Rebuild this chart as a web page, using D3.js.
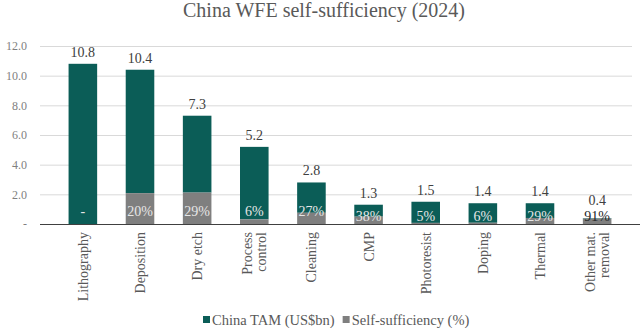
<!DOCTYPE html>
<html>
<head>
<meta charset="utf-8">
<script src="https://cdn.jsdelivr.net/npm/d3@7"></script>
<style>
  body { margin: 0; background: #fff; }
  svg text { font-family: "Liberation Serif", "DejaVu Serif", serif; }
</style>
</head>
<body>
<svg id="chart"></svg>
<script>
// categories and values
var categories = ["Lithography", "Deposition", "Dry etch", "Process control", "Cleaning",
                  "CMP", "Photoresist", "Doping", "Thermal", "Other mat. removal"];
var tam = [10.8, 10.4, 7.3, 5.2, 2.8, 1.3, 1.5, 1.4, 1.4, 0.4];     // China TAM (US$bn)
var selfSuff = [null, 20, 29, 6, 27, 38, 5, 6, 29, 91];              // Self-sufficiency (%)
var yTicks = [0, 2, 4, 6, 8, 10, 12];
var seriesNames = ["China TAM (US$bn)", "Self-sufficiency (%)"];

var width = 640, height = 328;
var teal = "#0b5d57", grey = "#7f7f7f";

var svg = d3.select("#chart").attr("width", width).attr("height", height);

var x = d3.scaleBand().domain(categories).range([40, 640]).padding(0.5);
var y = d3.scaleLinear().domain([0, 12]).range([224, 46]);

// title
svg.append("text")
  .attr("x", 324).attr("y", 17)
  .attr("text-anchor", "middle")
  .style("font-size", "20px")
  .attr("fill", "#595959")
  .text("China WFE self-sufficiency (2024)");

// y axis + gridlines
var yAxis = svg.append("g")
  .attr("transform", "translate(40,0)")
  .call(d3.axisLeft(y).tickValues(yTicks).tickSize(-592).tickPadding(13)
    .tickFormat(function(d) { return d === 0 ? "-" : d.toFixed(1); }));
yAxis.select(".domain").remove();
yAxis.selectAll(".tick line").attr("stroke", "#d9d9d9");
yAxis.selectAll(".tick text").attr("fill", "#7f7f7f").style("font-size", "12px");

// bars: grey = self-sufficient part, teal = remainder
var rows = categories.map(function(c, i) {
  var s = selfSuff[i] == null ? 0 : selfSuff[i] / 100;
  return { cat: c, tam: tam[i], ss: selfSuff[i], local: tam[i] * s };
});

var g = svg.selectAll(".bar").data(rows).enter().append("g").attr("class", "bar");

g.append("rect")
  .attr("x", function(d) { return x(d.cat); })
  .attr("width", x.bandwidth())
  .attr("y", function(d) { return y(d.tam); })
  .attr("height", function(d) { return y(d.local) - y(d.tam); })
  .attr("fill", teal);

g.append("rect")
  .attr("x", function(d) { return x(d.cat); })
  .attr("width", x.bandwidth())
  .attr("y", function(d) { return y(d.local); })
  .attr("height", function(d) { return y(0) - y(d.local); })
  .attr("fill", grey);

// TAM labels above
g.append("text")
  .attr("x", function(d) { return x(d.cat) + x.bandwidth() / 2; })
  .attr("y", function(d) { return y(d.tam) - (d.tam < 1 ? 13 : 7); })
  .attr("text-anchor", "middle")
  .style("font-size", "14px")
  .attr("fill", "#404040")
  .text(function(d) { return d.tam.toFixed(1); });

// self-sufficiency labels near the base
g.append("text")
  .attr("x", function(d) { return x(d.cat) + x.bandwidth() / 2; })
  .attr("y", function(d) { return y(0) - (d.tam >= 2 ? 8 : 3); })
  .attr("text-anchor", "middle")
  .style("font-size", "14px")
  .attr("fill", function(d) { return d.tam < 1 ? "#262626" : "#e6e6e6"; })
  .text(function(d) { return d.ss == null ? "-" : d.ss + "%"; });

// x axis
var xAxis = svg.append("g")
  .attr("transform", "translate(0," + y(0) + ")")
  .call(d3.axisBottom(x).tickSize(0).tickFormat(""));
xAxis.select(".domain").attr("stroke", "#404040").attr("stroke-width", 1.2)
  .attr("d", "M40,0.5H640");

// rotated category labels, wrapped to two lines where needed
var labelLines = {
  "Process control": ["Process", "control"],
  "Other mat. removal": ["Other mat.", "removal"]
};
categories.forEach(function(c) {
  var lines = labelLines[c] || [c];
  var cx = x(c) + x.bandwidth() / 2;
  var t = svg.append("text")
    .attr("transform", "translate(" + cx + "," + (y(0) + 8) + ") rotate(-90)")
    .attr("text-anchor", "end")
    .style("font-size", "14px")
    .attr("fill", "#595959");
  lines.forEach(function(l, k) {
    t.append("tspan")
      .attr("x", 0)
      .attr("y", (k - (lines.length - 1) / 2) * 14 + 5)
      .text(l);
  });
});

// legend
var legend = svg.append("g").attr("transform", "translate(203,320)");
var lx = 0;
seriesNames.forEach(function(name, i) {
  legend.append("rect").attr("x", lx).attr("y", -4).attr("width", 7).attr("height", 7)
    .attr("fill", i === 0 ? teal : grey);
  var t = legend.append("text").attr("x", lx + 9).attr("y", 4.5)
    .style("font-size", "14.5px").attr("fill", "#595959").text(name);
  lx += 9 + t.node().getComputedTextLength() + 8;
});
</script>
</body>
</html>
